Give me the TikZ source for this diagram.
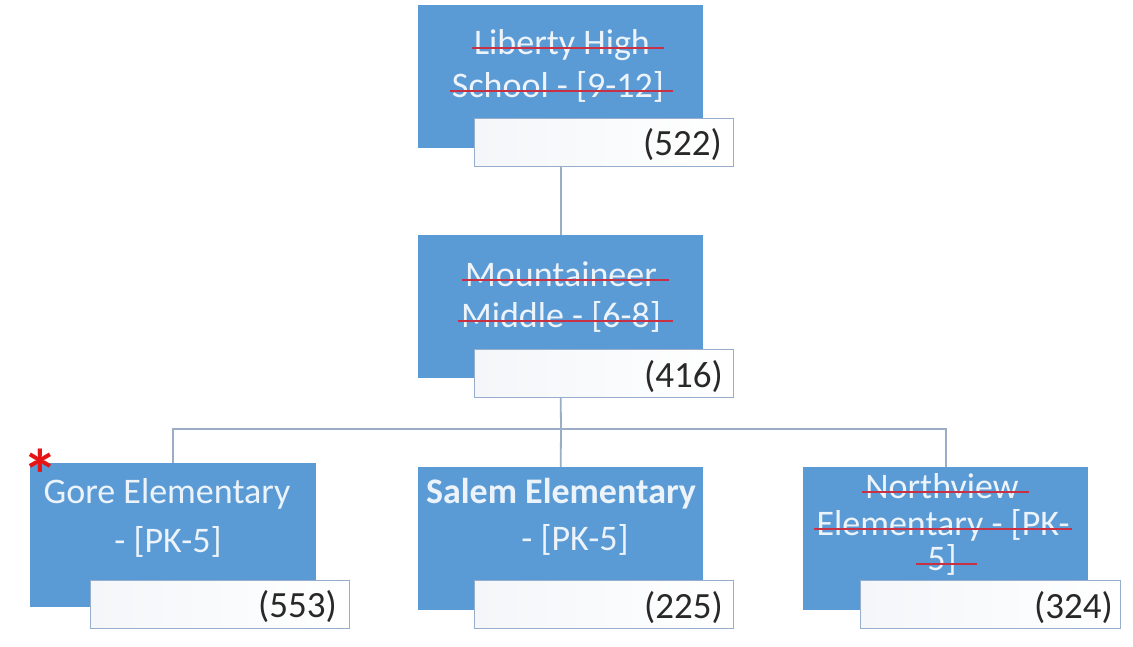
\documentclass[tikz,border=0pt]{standalone}
\usepackage{fontspec}
\setmainfont{Carlito}
\usetikzlibrary{calc}
\definecolor{boxblue}{RGB}{91,155,213}
\definecolor{conncol}{RGB}{155,174,198}
\definecolor{numborder}{RGB}{150,174,203}
\definecolor{numfill}{RGB}{244,246,249}
\definecolor{lighttext}{RGB}{236,243,250}
\definecolor{strikered}{RGB}{200,48,68}
\definecolor{numtext}{RGB}{40,40,40}
\definecolor{starred}{RGB}{230,20,20}
\newcommand{\strikeout}[3]{\draw[strk] ($(#1.base west)+(#2,-6)$) -- ($(#1.base east)+(#3,-6)$);}
\begin{document}
\begin{tikzpicture}[x=1pt,y=-1pt,
  bluebox/.style={fill=boxblue,draw=none,inner sep=0pt,minimum width=285pt,minimum height=143pt,anchor=north west},
  numbox/.style={left color=numfill,right color=white,draw=numborder,line width=1.2pt,inner sep=0pt,minimum width=259pt,minimum height=48pt,anchor=north west},
  lbl/.style={inner sep=0pt,anchor=base,text=lighttext,font=\fontsize{36}{43}\selectfont},
  num/.style={inner sep=0pt,anchor=base east,text=numtext,font=\fontsize{37}{44}\selectfont},
  conn/.style={draw=conncol,line width=1.8pt},
  strk/.style={draw=strikered,line width=1.8pt}]
\useasboundingbox (0,0) rectangle (1133,646);
\fill[white] (0,0) rectangle (1133,646);

% boxes
\node[bluebox] (hs) at (418,5) {};
\node[bluebox] (mm) at (418,235) {};
\node[bluebox,minimum width=286pt,minimum height=144pt] (gore) at (30,463) {};
\node[bluebox] (salem) at (418,467) {};
\node[bluebox] (north) at (803,467) {};

% connectors
\coordinate (bus) at (561,429);
\draw[conn] (hs.center |- 0,165) -- (mm.north);
\draw[conn] (mm.center |- 0,397) -- (bus);
\draw[conn] (gore.north) |- (bus) -| (north.north);
\draw[conn] (bus) -- (salem.north);

% redraw boxes over connectors
\fill[boxblue] (hs.north west) rectangle (hs.south east);
\fill[boxblue] (mm.north west) rectangle (mm.south east);
\fill[boxblue] (gore.north west) rectangle (gore.south east);
\fill[boxblue] (salem.north west) rectangle (salem.south east);
\fill[boxblue] (north.north west) rectangle (north.south east);

% number boxes
\node[numbox] (hsn) at (474,118) {};
\node[numbox] (mmn) at (474,349) {};
\node[numbox] (goren) at (90,580) {};
\node[numbox] (salemn) at (474,580) {};
\node[numbox,minimum width=260pt] (northn) at (860,580) {};

\node[num] (hsnt) at (722,155) {(522)};
\node[num] (mmnt) at (723,387) {(416)};
\node[num] (gorent) at (337,617) {(553)};
\node[num] (salement) at (723,618) {(225)};
\node[num] (northnt) at (1113,618) {(324)};

% labels
\node[lbl] (hs1) at (562,54) {Liberty High};
\node[lbl] (hs2) at (558,97) {School - [9-12]};
\strikeout{hs1}{-2}{14}
\strikeout{hs2}{-2}{9}

\node[lbl] (mm1) at (561,286) {Mountaineer};
\node[lbl] (mm2) at (561,327) {Middle - [6-8]};
\strikeout{mm1}{-3}{12}
\strikeout{mm2}{-3}{12}

\node[lbl] (gore1) at (167,503) {Gore Elementary};
\node[lbl] (gore2) at (168,552) {- [PK-5]};

\node[lbl,font=\fontsize{36}{43}\selectfont\bfseries] (salem1) at (561,503) {Salem Elementary};
\node[lbl] (salem2) at (575,550) {- [PK-5]};

\node[lbl] (north1) at (942,498) {Northview};
\node[lbl] (north2) at (943,535) {Elementary - [PK-};
\node[lbl] (north3) at (942,570) {5]};
\strikeout{north1}{-3}{10}
\strikeout{north2}{-2}{2}
\strikeout{north3}{-11}{20}

% asterisk
\node[inner sep=0pt,text=starred,font=\fontsize{72}{72}\selectfont\bfseries,anchor=base] (star) at (40,500) {*};
\end{tikzpicture}
\end{document}
